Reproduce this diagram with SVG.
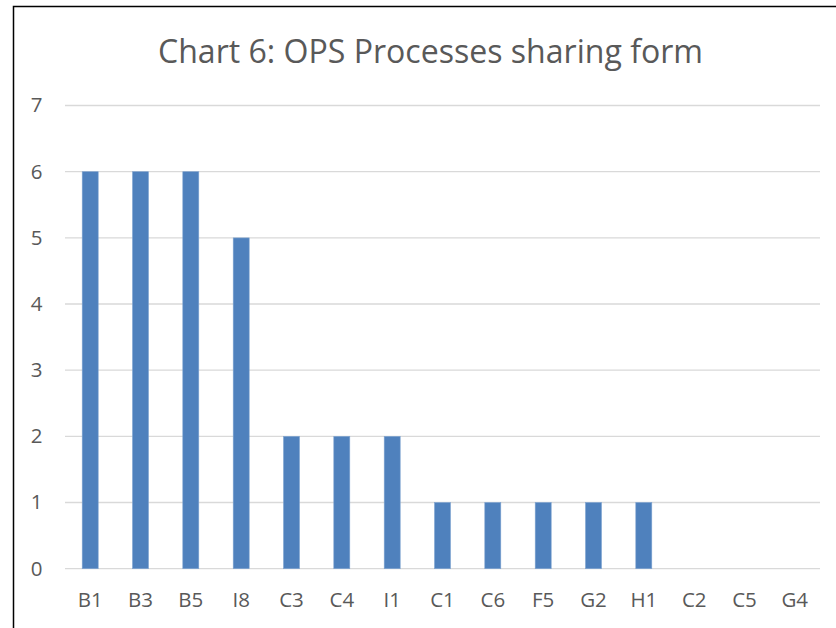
<svg xmlns="http://www.w3.org/2000/svg" width="836" height="628" viewBox="0 0 836 628">
  <style>
    .title { font-family: "Open Sans", "Liberation Sans", Arial, sans-serif; font-size: 33px; fill: #595959; text-anchor: middle; }
    .tick { font-family: "Open Sans", "Liberation Sans", Arial, sans-serif; font-size: 20.5px; fill: #595959; }
    .ylab { text-anchor: end; }
    .xlab { text-anchor: middle; }
    .grid { stroke: #d9d9d9; stroke-width: 1.3; fill: none; }
    .bar { fill: #4f81bd; stroke: #7fa3d0; stroke-width: 0.6; }
    .frame { stroke: #000000; stroke-width: 1.5; fill: none; }
  </style>

  <rect x="0" y="0" width="836" height="628" fill="#ffffff"/>

  <!-- chart frame (left and top edges) -->
  <path class="frame" d="M13.5,628 V6.6 H836"/>

  <text class="title" x="430.5" y="62.5" textLength="545" lengthAdjust="spacingAndGlyphs">Chart 6: OPS Processes sharing form</text>

  <!-- horizontal gridlines: 0..7 -->
  <g id="gridlines">
    <line class="grid" x1="65" y1="568.7" x2="820" y2="568.7"/>
    <line class="grid" x1="65" y1="502.5" x2="820" y2="502.5"/>
    <line class="grid" x1="65" y1="436.4" x2="820" y2="436.4"/>
    <line class="grid" x1="65" y1="370.2" x2="820" y2="370.2"/>
    <line class="grid" x1="65" y1="304.0" x2="820" y2="304.0"/>
    <line class="grid" x1="65" y1="237.9" x2="820" y2="237.9"/>
    <line class="grid" x1="65" y1="171.7" x2="820" y2="171.7"/>
    <line class="grid" x1="65" y1="105.5" x2="820" y2="105.5"/>
  </g>

  <!-- value axis labels -->
  <g id="y-axis" class="tick ylab">
    <text x="42.5" y="575.5">0</text>
    <text x="42.5" y="509.3">1</text>
    <text x="42.5" y="443.2">2</text>
    <text x="42.5" y="377">3</text>
    <text x="42.5" y="310.8">4</text>
    <text x="42.5" y="244.7">5</text>
    <text x="42.5" y="178.5">6</text>
    <text x="42.5" y="112.3">7</text>
  </g>

  <!-- bars -->
  <g id="bars">
    <rect id="bar-B1" class="bar" x="82.2" y="171.7" width="16" height="397"/>
    <rect id="bar-B3" class="bar" x="132.5" y="171.7" width="16" height="397"/>
    <rect id="bar-B5" class="bar" x="182.8" y="171.7" width="16" height="397"/>
    <rect id="bar-I8" class="bar" x="233.2" y="237.9" width="16" height="330.8"/>
    <rect id="bar-C3" class="bar" x="283.5" y="436.4" width="16" height="132.3"/>
    <rect id="bar-C4" class="bar" x="333.8" y="436.4" width="16" height="132.3"/>
    <rect id="bar-I1" class="bar" x="384.2" y="436.4" width="16" height="132.3"/>
    <rect id="bar-C1" class="bar" x="434.5" y="502.5" width="16" height="66.2"/>
    <rect id="bar-C6" class="bar" x="484.8" y="502.5" width="16" height="66.2"/>
    <rect id="bar-F5" class="bar" x="535.2" y="502.5" width="16" height="66.2"/>
    <rect id="bar-G2" class="bar" x="585.5" y="502.5" width="16" height="66.2"/>
    <rect id="bar-H1" class="bar" x="635.8" y="502.5" width="16" height="66.2"/>
  </g>

  <!-- category axis labels -->
  <g id="x-axis" class="tick xlab">
    <text x="90.2" y="607">B1</text>
    <text x="140.5" y="607">B3</text>
    <text x="190.8" y="607">B5</text>
    <text x="241.2" y="607">I8</text>
    <text x="291.5" y="607">C3</text>
    <text x="341.8" y="607">C4</text>
    <text x="392.2" y="607">I1</text>
    <text x="442.5" y="607">C1</text>
    <text x="492.8" y="607">C6</text>
    <text x="543.2" y="607">F5</text>
    <text x="593.5" y="607">G2</text>
    <text x="643.8" y="607">H1</text>
    <text x="694.2" y="607">C2</text>
    <text x="744.5" y="607">C5</text>
    <text x="794.8" y="607">G4</text>
  </g>
</svg>
